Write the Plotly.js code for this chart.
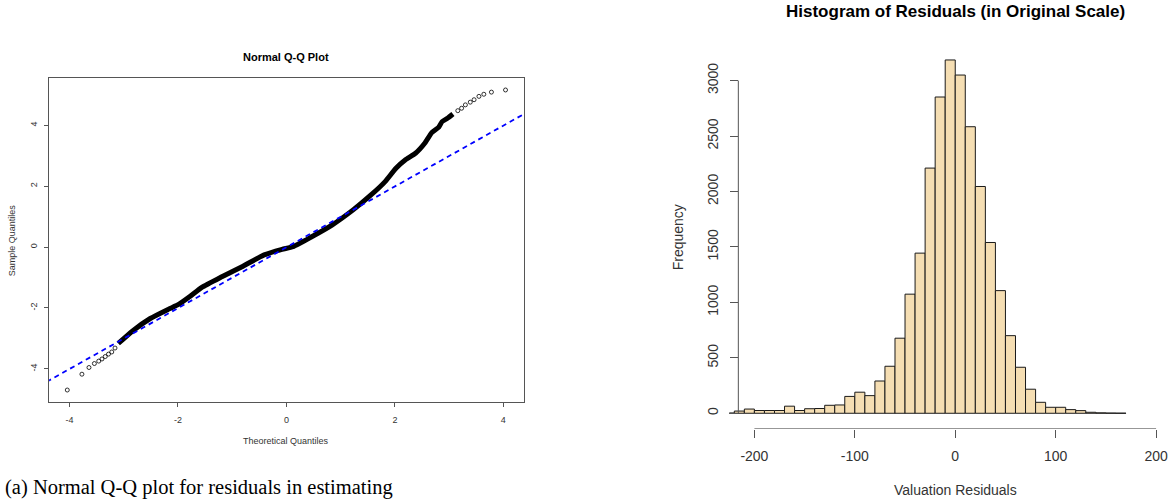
<!DOCTYPE html>
<html>
<head>
<meta charset="utf-8">
<script src="https://cdn.plot.ly/plotly-3.0.1.min.js"></script>
<style>
html,body{margin:0;padding:0;background:#ffffff;}
#chart{width:1173px;height:501px;}
</style>
</head>
<body>
<div id="chart"></div>
<script>
// ---------- Q-Q plot data ----------
const qqDenseTheoretical = [-3.10, -2.83, -2.51, -2.18, -1.98, -1.78, -1.56, -1.19, -0.80, -0.41, -0.08, 0.12, 0.45, 0.84, 1.23, 1.56, 1.82, 2.02, 2.19, 2.38, 2.55, 2.68, 2.81, 2.87, 2.97, 3.07];
const qqDenseSample      = [-3.17, -2.75, -2.35, -2.05, -1.88, -1.63, -1.33, -0.98, -0.63, -0.26, -0.08, 0.01, 0.32, 0.72, 1.22, 1.71, 2.15, 2.59, 2.86, 3.08, 3.41, 3.76, 3.94, 4.12, 4.23, 4.37];
const qqLowTheoretical  = [-4.04, -3.77, -3.64, -3.54, -3.46, -3.40, -3.34, -3.28, -3.22, -3.16];
const qqLowSample       = [-4.70, -4.18, -3.96, -3.83, -3.75, -3.68, -3.60, -3.52, -3.45, -3.32];
const qqHighTheoretical = [3.16, 3.23, 3.30, 3.39, 3.46, 3.55, 3.64, 3.78, 4.04];
const qqHighSample      = [4.48, 4.56, 4.67, 4.76, 4.84, 4.95, 5.02, 5.09, 5.16];
const qqLineIntercept = -0.01;
const qqLineSlope = 1.0;
const qqLineExtent = [-5, 5];
const qqXTicks = [-4, -2, 0, 2, 4];
const qqYTicks = [-4, -2, 0, 2, 4];

// ---------- Histogram data ----------
const histBinLeft = [-230, -220, -210, -200, -190, -180, -170, -160, -150, -140, -130, -120, -110, -100, -90, -80, -70, -60, -50, -40, -30, -20, -10, 0, 10, 20, 30, 40, 50, 60, 70, 80, 90, 100, 110, 120, 130, 140, 150, 160];
const histCounts  = [2, 20, 38, 25, 25, 25, 64, 25, 41, 43, 72, 75, 152, 190, 159, 291, 424, 677, 1074, 1444, 2211, 2852, 3186, 3050, 2584, 2045, 1540, 1106, 700, 415, 217, 99, 54, 54, 33, 24, 9, 4, 2, 1];
const histBinWidth = 10;
const histXTicks = [-200, -100, 0, 100, 200];
const histYTicks = [0, 500, 1000, 1500, 2000, 2500, 3000];

// ---------- Layout helpers (pixel -> paper) ----------
const W = 1173, H = 501;
const px = v => v / W;
const py = v => 1 - v / H;
const FONT = '"Liberation Sans", Arial, sans-serif';

const qqXRange = [-4.375, 4.375];
const qqYRange = [-5.084, 5.544];
const hXRange = [-225, 205];
const hYRange = [-140, 3320];

const traces = [
  {
    type: 'scatter', mode: 'lines', x: qqDenseTheoretical, y: qqDenseSample,
    xaxis: 'x', yaxis: 'y',
    line: {color: '#000000', width: 5, shape: 'spline', smoothing: 0.5},
    hoverinfo: 'skip', showlegend: false
  },
  {
    type: 'scatter', mode: 'markers', x: qqLowTheoretical, y: qqLowSample,
    xaxis: 'x', yaxis: 'y',
    marker: {symbol: 'circle-open', size: 4, color: '#000000', line: {width: 0.8}},
    showlegend: false
  },
  {
    type: 'scatter', mode: 'markers', x: qqHighTheoretical, y: qqHighSample,
    xaxis: 'x', yaxis: 'y',
    marker: {symbol: 'circle-open', size: 4, color: '#000000', line: {width: 0.8}},
    showlegend: false
  },
  {
    type: 'scatter', mode: 'lines', x: qqLineExtent,
    y: qqLineExtent.map(v => qqLineIntercept + qqLineSlope * v),
    xaxis: 'x', yaxis: 'y',
    line: {color: '#0000ff', width: 1.8, dash: '5px,4px'},
    showlegend: false
  },
  {
    type: 'bar', x: histBinLeft.map(v => v + histBinWidth / 2), y: histCounts,
    width: histBinWidth, xaxis: 'x2', yaxis: 'y2',
    marker: {color: '#F5DEB3', line: {color: '#1a1a1a', width: 1}},
    showlegend: false
  }
];

const layout = {
  width: W, height: H,
  margin: {l: 0, r: 0, t: 0, b: 0},
  paper_bgcolor: '#ffffff', plot_bgcolor: '#ffffff',
  font: {family: FONT, color: '#333333'},
  showlegend: false,
  xaxis: {
    domain: [px(49.1), px(523.7)], range: qqXRange, anchor: 'y',
    showgrid: false, zeroline: false, showline: true, mirror: true,
    linecolor: '#555555', linewidth: 1,
    ticks: 'outside', ticklen: 4, tickcolor: '#555555',
    tickvals: qqXTicks, ticktext: qqXTicks.map(String),
    tickfont: {size: 9, color: '#333333', family: FONT}, ticklabelstandoff: 5
  },
  yaxis: {
    domain: [py(401.7), py(78.3)], range: qqYRange, anchor: 'x',
    showgrid: false, zeroline: false, showline: true, mirror: true,
    linecolor: '#555555', linewidth: 1,
    ticks: 'outside', ticklen: 4, tickcolor: '#555555',
    tickvals: qqYTicks, ticktext: qqYTicks.map(String), tickangle: -90,
    tickfont: {size: 9, color: '#333333', family: FONT}, ticklabelstandoff: 4
  },
  xaxis2: {
    domain: [px(729.3), px(1161.1)], range: hXRange, anchor: 'y2',
    showgrid: false, zeroline: false, showline: false,
    ticks: 'outside', ticklen: 8, tickcolor: '#555555', tickwidth: 1,
    tickvals: histXTicks, ticktext: histXTicks.map(String),
    tickfont: {size: 14, color: '#333333', family: FONT}, ticklabelstandoff: 6
  },
  yaxis2: {
    domain: [py(428.8), py(45.1)], range: hYRange, anchor: 'free', position: px(737.7),
    showgrid: false, zeroline: false, showline: false,
    ticks: 'outside', ticklen: 8, tickcolor: '#555555', tickwidth: 1,
    tickvals: histYTicks, ticktext: histYTicks.map(String), tickangle: -90,
    tickfont: {size: 14, color: '#333333', family: FONT}, ticklabelstandoff: 6
  },
  shapes: [
    {type: 'line', xref: 'x2', yref: 'y2', x0: -216, x1: -216, y0: histYTicks[0], y1: histYTicks[histYTicks.length - 1],
     line: {color: '#555555', width: 1}},
    {type: 'line', xref: 'x2', yref: 'y2', x0: histXTicks[0], x1: histXTicks[histXTicks.length - 1], y0: -139, y1: -139,
     line: {color: '#555555', width: 1}}
  ],
  annotations: [
    {text: '<b>Normal Q-Q Plot</b>', xref: 'paper', yref: 'paper', x: px(286.4), y: py(56.7),
     xanchor: 'center', yanchor: 'middle', showarrow: false, font: {size: 11, color: '#000000', family: FONT}},
    {text: 'Theoretical Quantiles', xref: 'paper', yref: 'paper', x: px(286.4), y: py(441),
     xanchor: 'center', yanchor: 'middle', showarrow: false, font: {size: 9, color: '#333333', family: FONT}},
    {text: 'Sample Quantiles', xref: 'paper', yref: 'paper', x: px(11.8), y: py(240.5), textangle: -90,
     xanchor: 'center', yanchor: 'middle', showarrow: false, font: {size: 9, color: '#333333', family: FONT}},
    {text: '<b>Histogram of Residuals (in Original Scale)</b>', xref: 'paper', yref: 'paper', x: px(955.3), y: py(12),
     xanchor: 'center', yanchor: 'middle', showarrow: false, font: {size: 17, color: '#000000', family: FONT}},
    {text: 'Frequency', xref: 'paper', yref: 'paper', x: px(678.3), y: py(237), textangle: -90,
     xanchor: 'center', yanchor: 'middle', showarrow: false, font: {size: 14, color: '#333333', family: FONT}},
    {text: 'Valuation Residuals', xref: 'paper', yref: 'paper', x: px(955.3), y: py(490),
     xanchor: 'center', yanchor: 'middle', showarrow: false, font: {size: 14, color: '#333333', family: FONT}},
    {text: '(a) Normal Q-Q plot for residuals in estimating', xref: 'paper', yref: 'paper', x: px(3), y: py(487),
     xanchor: 'left', yanchor: 'middle', showarrow: false, font: {size: 20.5, color: '#000000', family: '"Liberation Serif", "DejaVu Serif", serif'}}
  ]
};

Plotly.newPlot('chart', traces, layout, {displayModeBar: false, staticPlot: true});
</script>
</body>
</html>
